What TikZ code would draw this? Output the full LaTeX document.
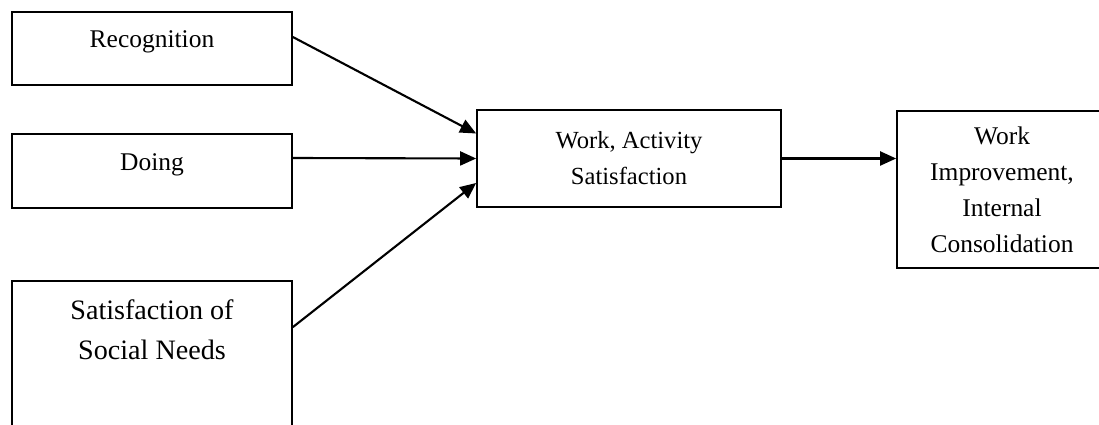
\documentclass[tikz,border=0pt]{standalone}
\usepackage{fontspec}
\setmainfont{Liberation Serif}
\usepackage{tikz}
\usetikzlibrary{positioning,arrows.meta}

\tikzset{
  box/.style={draw, line width=1pt, inner sep=0pt},
  lbl/.style={align=center, font=\fontsize{14.5pt}{20.5pt}\selectfont},
  arr/.style={line width=1.2pt, -{Triangle[length=0.32cm,width=0.28cm]}}
}

\begin{document}
\begin{tikzpicture}[x=0.02cm, y=-0.02cm]
\useasboundingbox (0,0) rectangle (1099,425);
\clip (0,0) rectangle (1099,425);
% left boxes
\node[box, minimum width=5.6cm, minimum height=1.46cm] (rec) at (152,48.5) {};
\node[lbl] (rectxt) at (152,42) {Recognition};
\node[box, minimum width=5.6cm, minimum height=1.48cm] (doing) at (152,171) {};
\node[lbl] (doingtxt) at (152,164.5) {Doing};
\node[box, minimum width=5.6cm, minimum height=3.28cm] (social) at (152,363) {};
\node[lbl, font=\fontsize{16pt}{23pt}\selectfont] (socialtxt) at (152,330) {Satisfaction of\\Social Needs};
% middle and right
\node[box, lbl, font=\fontsize{14pt}{20.5pt}\selectfont, minimum width=6.08cm, minimum height=1.94cm] (work) at (629,158.5) {Work, Activity\\Satisfaction};
\node[box, lbl, minimum width=4.2cm, minimum height=3.14cm] (improve) at (1002,189.5) {Work\\Improvement,\\Internal\\Consolidation};
% arrows
\draw[arr] ([yshift=0.23cm]rec.east) -- ([yshift=0.5cm]work.west);
\draw[arr] ([yshift=0.26cm]doing.east) -- (work.west);
\draw[arr] ([yshift=-0.94cm]social.north east) -- ([yshift=-0.49cm]work.west);
\draw[arr] (work.east) -- (improve.west |- work.east);
\end{tikzpicture}
\end{document}
